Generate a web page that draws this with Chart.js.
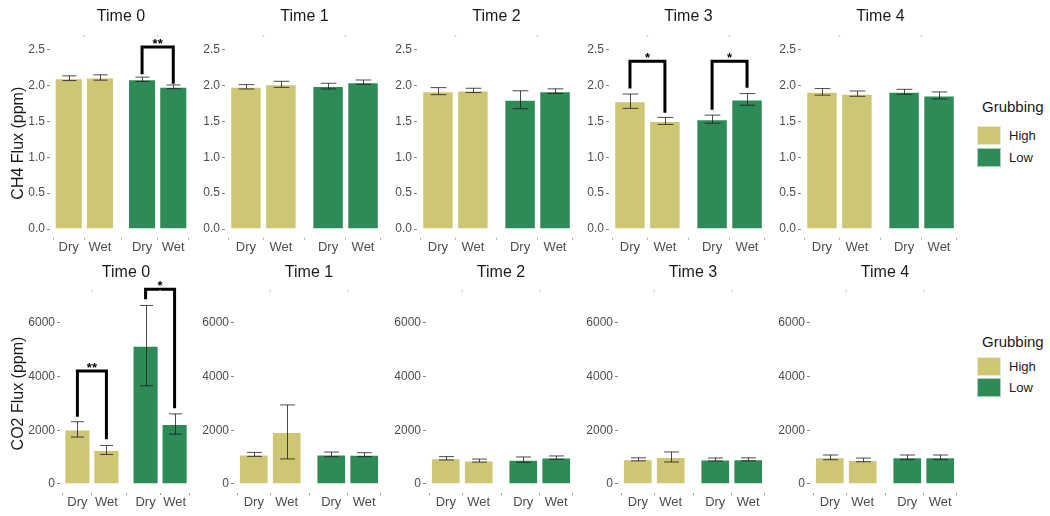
<!DOCTYPE html>
<html>
<head>
<meta charset="utf-8">
<script src="https://cdn.jsdelivr.net/npm/chart.js@4.4.1/dist/chart.umd.min.js"></script>
<style>
  html, body { margin: 0; padding: 0; background: #ffffff; }
  #wrap { position: relative; width: 1050px; height: 516px; overflow: hidden;
          font-family: "Liberation Sans", Arial, sans-serif; }
  #wrap canvas { position: absolute; }
  .lg-title { position: absolute; font-size: 15px; color: #1a1a1a; line-height: 17px; white-space: nowrap; }
  .lg-key { position: absolute; width: 24px; height: 19px; box-sizing: border-box;
            border: 1px solid rgba(255,255,255,0.6); }
  .lg-label { position: absolute; font-size: 13px; color: #1a1a2e; line-height: 15px; white-space: nowrap; }
</style>
</head>
<body>
<div id="wrap"></div>
<script>
// ---- data ----
const times = ['Time 0', 'Time 1', 'Time 2', 'Time 3', 'Time 4'];
const treatments = ['Dry', 'Wet', 'Dry', 'Wet'];
const grubbingOfBar = ['High', 'High', 'Low', 'Low'];
const grubbingLevels = ['High', 'Low'];

// CH4 flux (ppm): mean and standard error per time, bars ordered High-Dry, High-Wet, Low-Dry, Low-Wet
const ch4Mean = [
  [2.100, 2.110, 2.085, 1.980],
  [1.980, 2.015, 1.990, 2.045],
  [1.920, 1.930, 1.800, 1.920],
  [1.780, 1.505, 1.530, 1.805],
  [1.910, 1.885, 1.910, 1.860]
];
const ch4Se = [
  [0.033, 0.037, 0.030, 0.026],
  [0.030, 0.042, 0.040, 0.030],
  [0.049, 0.030, 0.125, 0.032],
  [0.100, 0.049, 0.056, 0.081],
  [0.046, 0.037, 0.035, 0.049]
];

// CO2 flux (ppm)
const co2Mean = [
  [2030, 1265, 5145, 2230],
  [1100, 1935, 1100, 1090],
  [955, 870, 905, 980],
  [915, 1005, 910, 915],
  [990, 895, 990, 990]
];
const co2Se = [
  [285, 167, 1494, 378],
  [74, 1004, 87, 74],
  [62, 56, 99, 62],
  [56, 186, 56, 56],
  [87, 68, 87, 87]
];

const ch4Ticks = [0, 0.5, 1.0, 1.5, 2.0, 2.5];
const co2Ticks = [0, 2000, 4000, 6000];

// significance brackets: time, bars compared, left tip / bar height / right tip (ppm), label
const ch4SigTime  = [0, 3, 3];
const ch4SigBars  = [[2, 3], [0, 1], [2, 3]];
const ch4SigTips  = [[2.154, 2.535, 2.024], [1.955, 2.335, 1.620], [1.662, 2.335, 1.968]];
const ch4SigLabel = ['**', '*', '*'];

const co2SigTime  = [0, 0];
const co2SigBars  = [[0, 1], [2, 3]];
const co2SigTips  = [[2504, 4202, 1661], [6867, 7240, 2814]];
const co2SigLabel = ['**', '*'];

// ---- styling / layout ----
const FONT = '"Liberation Sans", Arial, sans-serif';
const fillFor = { High: '#CDC673', Low: '#2E8B57' };
// x slots: two inner facets (High, Low) with a small gap between them
const xSlots = [0, 1, 2.35, 3.35];
const xMin = -0.6, xMax = 3.95;
const facetCentres = [0.5, 2.85];

const rows = [
  {
    mean: ch4Mean, se: ch4Se, ticks: ch4Ticks, fmt: v => v.toFixed(1),
    sigTime: ch4SigTime, sigBars: ch4SigBars, sigTips: ch4SigTips, sigLabel: ch4SigLabel,
    yMin: -0.1195, yMax: 2.5095, top: 0, padTop: 48.8, xAxisH: 20.4,
    titleY: 17, dotY: 36, firstLeft: 50, left: 33, yTitle: 'CH4 Flux (ppm)',
    legendTitleY: 98, legendKeys: [126, 148]
  },
  {
    mean: co2Mean, se: co2Se, ticks: co2Ticks, fmt: v => String(v),
    sigTime: co2SigTime, sigBars: co2SigBars, sigTips: co2SigTips, sigLabel: co2SigLabel,
    yMin: -336, yMax: 7066, top: 258, padTop: 36, xAxisH: 23,
    titleY: 15, dotY: 32.7, firstLeft: 60, left: 42, yTitle: 'CO2 Flux (ppm)',
    legendTitleY: 333, legendKeys: [357, 378]
  }
];

const PANEL_W = 192, PANEL_H = 258;
const wrap = document.getElementById('wrap');

// error bars, significance brackets, panel title and strip marks
const facetDecor = {
  id: 'facetDecor',
  afterDatasetsDraw(chart, args, opts) {
    const { ctx, scales: { x, y } } = chart;
    const unit = x.getPixelForValue(1) - x.getPixelForValue(0);
    const half = 0.225 * unit;
    ctx.save();
    ctx.strokeStyle = 'rgba(25,25,25,0.78)';
    ctx.lineWidth = 1;
    opts.mean.forEach((m, j) => {
      const px = Math.round(x.getPixelForValue(xSlots[j])) + 0.5;
      const hi = y.getPixelForValue(m + opts.se[j]);
      const lo = y.getPixelForValue(m - opts.se[j]);
      ctx.beginPath();
      ctx.moveTo(px, hi); ctx.lineTo(px, lo);
      ctx.moveTo(px - half, hi); ctx.lineTo(px + half, hi);
      ctx.moveTo(px - half, lo); ctx.lineTo(px + half, lo);
      ctx.stroke();
    });
    ctx.restore();

    ctx.save();
    ctx.strokeStyle = '#000';
    ctx.lineWidth = 3;
    ctx.lineJoin = 'miter';
    ctx.fillStyle = '#000';
    ctx.font = 'bold 13px ' + FONT;
    ctx.textAlign = 'center';
    ctx.textBaseline = 'alphabetic';
    opts.sigs.forEach(s => {
      const xl = x.getPixelForValue(xSlots[s.bars[0]]);
      const xr = x.getPixelForValue(xSlots[s.bars[1]]);
      const yTop = y.getPixelForValue(s.tips[1]);
      ctx.beginPath();
      ctx.moveTo(xl, y.getPixelForValue(s.tips[0]));
      ctx.lineTo(xl, yTop);
      ctx.lineTo(xr, yTop);
      ctx.lineTo(xr, y.getPixelForValue(s.tips[2]));
      ctx.stroke();
      ctx.fillText(s.label, (xl + xr) / 2, yTop + 1);
    });
    ctx.restore();
  },
  afterDraw(chart, args, opts) {
    const { ctx, chartArea, scales: { x } } = chart;
    ctx.save();
    ctx.fillStyle = '#1a1a1a';
    ctx.font = '16px ' + FONT;
    ctx.textAlign = 'center';
    ctx.textBaseline = 'middle';
    ctx.fillText(opts.title, (chartArea.left + chartArea.right) / 2, opts.titleY);
    ctx.fillStyle = '#c4c4c4';
    facetCentres.forEach(c => {
      const px = x.getPixelForValue(c);
      ctx.fillRect(px - 0.75, opts.dotY - 0.75, 1.5, 1.5);
    });
    ctx.restore();
  }
};

rows.forEach(row => {
  times.forEach((t, i) => {
    const canvas = document.createElement('canvas');
    canvas.width = PANEL_W;
    canvas.height = PANEL_H;
    canvas.style.left = (i * PANEL_W) + 'px';
    canvas.style.top = row.top + 'px';
    canvas.style.width = PANEL_W + 'px';
    canvas.style.height = PANEL_H + 'px';
    wrap.appendChild(canvas);

    const areaLeft = i === 0 ? row.firstLeft : row.left;
    const sigs = [];
    row.sigTime.forEach((ti, k) => {
      if (ti === i) sigs.push({ bars: row.sigBars[k], tips: row.sigTips[k], label: row.sigLabel[k] });
    });

    new Chart(canvas, {
      type: 'bar',
      data: {
        datasets: [{
          data: xSlots.map((xv, j) => ({ x: xv, y: row.mean[i][j] })),
          backgroundColor: grubbingOfBar.map(g => fillFor[g]),
          borderColor: 'rgba(255,255,255,0.55)',
          borderWidth: 1,
          barPercentage: 0.9,
          categoryPercentage: 1.0
        }]
      },
      options: {
        responsive: false,
        animation: false,
        devicePixelRatio: 1,
        layout: { padding: { top: row.padTop, left: 0, right: 0, bottom: 0 } },
        scales: {
          x: {
            type: 'linear',
            min: xMin, max: xMax,
            offset: false,
            border: { display: false },
            grid: { display: true, drawOnChartArea: false, drawTicks: true, tickLength: 2, color: '#9a9a9a' },
            afterBuildTicks: s => { s.ticks = xSlots.map(v => ({ value: v })); },
            afterFit: s => { s.height = row.xAxisH; },
            ticks: {
              autoSkip: false, maxRotation: 0, minRotation: 0, padding: 0,
              color: '#4d4d4d', font: { family: FONT, size: 13 },
              callback: (v, idx) => treatments[idx]
            }
          },
          y: {
            min: row.yMin, max: row.yMax,
            border: { display: false },
            grid: { display: true, drawOnChartArea: false, drawTicks: true, tickLength: 3, color: '#8a8a8a' },
            afterBuildTicks: s => { s.ticks = row.ticks.map(v => ({ value: v })); },
            afterFit: s => { s.width = areaLeft; },
            ticks: {
              padding: 2, color: '#4d4d4d', font: { family: FONT, size: 12 },
              callback: v => row.fmt(v)
            },
            title: {
              display: i === 0, text: row.yTitle, color: '#1a1a1a',
              font: { family: FONT, size: 16 }, padding: { top: 9, bottom: 0 }
            }
          }
        },
        plugins: {
          legend: { display: false },
          tooltip: { enabled: false },
          title: { display: false },
          facetDecor: {
            mean: row.mean[i], se: row.se[i], sigs: sigs,
            title: t, titleY: row.titleY, dotY: row.dotY
          }
        }
      },
      plugins: [facetDecor]
    });
  });

  // legend for grubbing level
  const title = document.createElement('div');
  title.className = 'lg-title';
  title.textContent = 'Grubbing';
  title.style.left = '982px';
  title.style.top = row.legendTitleY + 'px';
  wrap.appendChild(title);
  grubbingLevels.forEach((g, k) => {
    const key = document.createElement('div');
    key.className = 'lg-key';
    key.style.left = '977px';
    key.style.top = row.legendKeys[k] + 'px';
    key.style.background = fillFor[g];
    wrap.appendChild(key);
    const lab = document.createElement('div');
    lab.className = 'lg-label';
    lab.textContent = g;
    lab.style.left = '1009px';
    lab.style.top = (row.legendKeys[k] + 2) + 'px';
    wrap.appendChild(lab);
  });
});
</script>
</body>
</html>
